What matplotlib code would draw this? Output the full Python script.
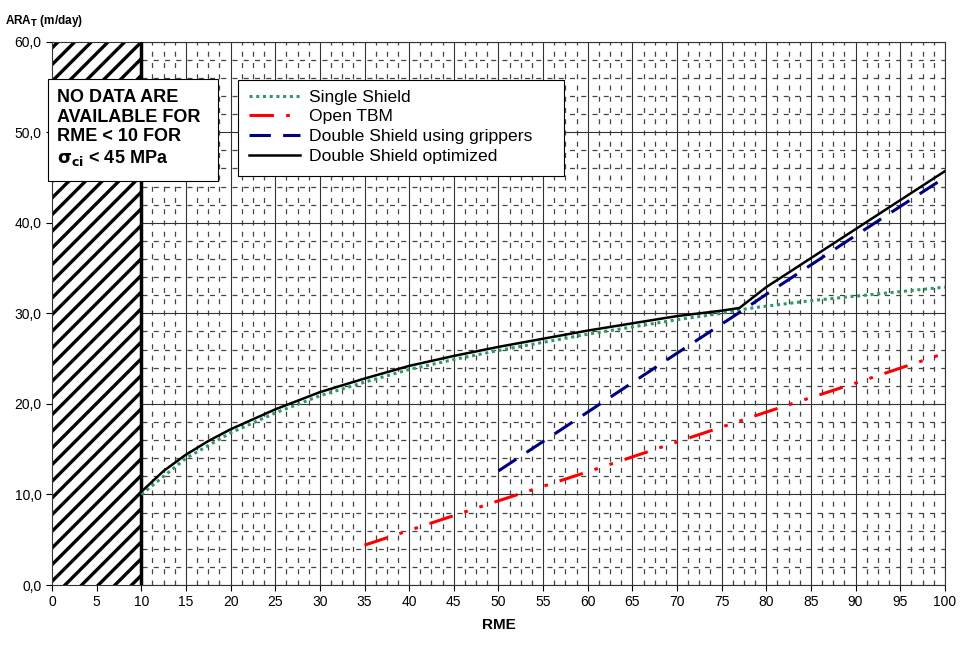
import numpy as np
import matplotlib
matplotlib.use('Agg')
import matplotlib.pyplot as plt
from matplotlib.patches import Rectangle
from matplotlib.ticker import MultipleLocator, FuncFormatter

plt.rcParams['font.family'] = ['Liberation Sans', 'DejaVu Sans']
plt.rcParams['hatch.linewidth'] = 2.4

# ---- data ----
rme_single = [10, 15, 20, 25, 30, 35, 40, 45, 50, 55, 60, 65, 70, 75, 77, 80, 85, 90, 95, 100]
ara_single = [10.0, 14.0, 16.8, 19.0, 20.9, 22.4, 23.8, 24.9, 25.9, 26.8, 27.7, 28.5, 29.3, 30.0,
              30.4, 30.8, 31.4, 31.9, 32.4, 32.9]

rme_open = [35, 50, 60, 70, 77, 80, 90, 100]
ara_open = [4.4, 9.3, 12.5, 15.8, 18.1, 19.1, 22.3, 25.6]

rme_grip = [50, 60, 70, 77, 80, 90, 100]
ara_grip = [12.6, 19.1, 25.6, 30.1, 32.1, 38.6, 45.0]

rme_opt = [10, 12.5, 15, 17.5, 20, 25, 30, 35, 40, 45, 50, 55, 60, 65, 70, 75, 77, 80, 85, 90, 95, 100]
ara_opt = [10.3, 12.6, 14.4, 15.9, 17.2, 19.4, 21.3, 22.8, 24.2, 25.3, 26.3, 27.2, 28.1, 28.9, 29.7,
           30.3, 30.6, 32.9, 36.1, 39.3, 42.5, 45.7]

labels = ['Single Shield', 'Open TBM', 'Double Shield using grippers', 'Double Shield optimized']

fig = plt.figure(figsize=(9.6, 6.46), dpi=100)
ax = fig.add_axes([0.0542, 0.0944, 0.930, 0.841])

ax.set_xlim(0, 100)
ax.set_ylim(0, 60)

# grid
ax.xaxis.set_major_locator(MultipleLocator(5))
ax.xaxis.set_minor_locator(MultipleLocator(1.25))
ax.yaxis.set_major_locator(MultipleLocator(10))
ax.yaxis.set_minor_locator(MultipleLocator(2))
ax.grid(which='major', color='#333333', lw=0.8, ls='-')
ax.grid(which='minor', color='#444444', lw=0.9, ls=(0, (4, 5)))
ax.set_axisbelow(True)
ax.tick_params(which='minor', length=0)
ax.tick_params(which='major', length=4, labelsize=10, direction='out')
ax.yaxis.set_major_formatter(FuncFormatter(lambda v, p: f'{v:.1f}'.replace('.', ',')))

# no data zone
ax.axvspan(0, 10, facecolor='white', edgecolor='black', hatch='//', lw=0, zorder=2)
ax.axvline(10, color='black', lw=2.5, zorder=3)

# curves
ax.plot(rme_single, ara_single, color='#2e9a64', lw=2.2, ls=(0, (1, 1.2)), label=labels[0], zorder=4)
ax.plot(rme_open, ara_open, color='#ff0000', lw=2.2, ls=(0, (8, 4, 1.2, 4, 1.2, 4)), label=labels[1], zorder=4)
ax.plot(rme_grip, ara_grip, color='#000080', lw=2.2, ls=(0, (7, 4)), label=labels[2], zorder=4)
ax.plot(rme_opt, ara_opt, color='black', lw=1.8, ls='-', label=labels[3], zorder=5)

for s in ax.spines.values():
    s.set_color('#333333')
    s.set_linewidth(0.8)

# legend box (drawn separately so it can be wider than its content)
ax.add_patch(Rectangle((0.208, 0.753), 0.366, 0.177, transform=ax.transAxes,
                       facecolor='white', edgecolor='black', lw=0.8, zorder=6))
leg = ax.legend(loc='upper left', bbox_to_anchor=(0.208, 0.933), frameon=False,
                fontsize=12.6, handlelength=2.9, borderpad=0.15, labelspacing=0.25,
                handletextpad=0.5)
leg.set_zorder(7)

# no-data text box
ax.add_patch(Rectangle((-0.45, 44.6), 19.05, 11.3, facecolor='white', edgecolor='black',
                       lw=0.8, zorder=7, clip_on=False))
ax.text(0.56, 50.4, 'NO DATA ARE\nAVAILABLE FOR\nRME < 10 FOR\n$\\mathbf{\\sigma_{ci}}$ < 45 MPa',
        fontsize=13, fontweight='bold', va='center', ha='left', linespacing=1.2, zorder=8)

ax.set_xlabel('RME', fontsize=11, fontweight='bold', labelpad=6)
fig.text(0.005, 0.968, 'ARA$_\\mathbf{T}$ (m/day)', fontsize=8.5, fontweight='bold', va='center')

fig.savefig('out.png', dpi=100)
